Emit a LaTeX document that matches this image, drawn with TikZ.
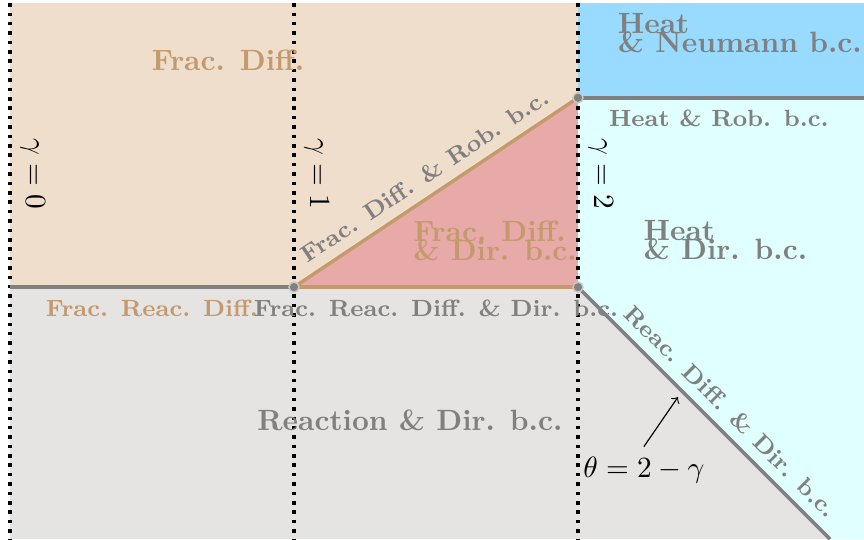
\documentclass[tikz,border=0pt]{standalone}
\definecolor{tanfill}{RGB}{239,222,204}
\definecolor{tanline}{RGB}{196,154,108}
\definecolor{redfill}{RGB}{231,170,169}
\definecolor{bluefill}{RGB}{153,218,255}
\definecolor{cyanfill}{RGB}{224,255,255}
\definecolor{grayfill}{RGB}{229,228,227}
\begin{document}
\begin{tikzpicture}[x=3.4cm, y=3.4cm,
    gline/.style={very thick, gray},
    tline/.style={very thick, tanline},
    vline/.style={black, line width=1.2pt, dash pattern=on 1.2pt off 2pt},
    corner/.style={fill=gray, draw=gray!45, line width=0.5pt},
    bigtext/.style={font=\bfseries},
    smalltext/.style={font=\footnotesize\bfseries},
    twoline/.style={font=\bfseries, align=left}]
  \useasboundingbox (-0.035,-0.887) rectangle (3.007,1.011);
  \coordinate (O) at (0,0);
  \coordinate (P1) at (1,0);
  \coordinate (P2) at (2,0);
  \coordinate (P3) at (2,2/3);
  \coordinate (R) at (3.007,2/3);
  \coordinate (E) at (2.887,-0.887);
  \fill[tanfill] (O) rectangle (2,1);
  \fill[redfill] (P1) -- (P2) -- (P3) -- cycle;
  \fill[bluefill] (P3) rectangle (3.007,1);
  \fill[cyanfill] (P3) -- (R) -- (3.007,-0.887) -- (E) -- (P2) -- cycle;
  \fill[grayfill] (O) -- (P2) -- (E) -- (0,-0.887) -- cycle;
  \foreach \g in {0,1,2}
    \draw[vline] (\g,1) -- (\g,-0.887);
  \draw[gline] (O) -- (P1);
  \draw[tline] (P1) -- (P2);
  \draw[tline] (P1) -- node[midway, above, sloped, smalltext, gray] (rob) {Frac. Diff. \& Rob. b.c.} (P3);
  \draw[gline] (P3) -- (R);
  \draw[gline] (P2) -- node[pos=0.55, above, sloped, smalltext, gray] (rdd) {Reac. Diff. \& Dir. b.c.} (E);
  \foreach \p in {P1,P2,P3}
    \filldraw[corner] (\p) circle (1.7pt);
  \node[bigtext, tanline] (fd) at (0.768,0.799) {Frac. Diff.};
  \node[smalltext, tanline] (frd) at (0.5,-0.074) {Frac. Reac. Diff.};
  \node[smalltext, gray] (frdd) at (1.5,-0.074) {Frac. Reac. Diff. \& Dir. b.c.};
  \node[bigtext, gray] (rdir) at (1.408,-0.468) {Reaction \& Dir. b.c.};
  \node[twoline, gray] (hn) at (2.57,0.893) {Heat\\[-5.5pt]\& Neumann b.c.};
  \node[smalltext, gray] (hr) at (2.496,0.595) {Heat \& Rob. b.c.};
  \node[twoline, gray] (hd) at (2.519,0.165) {Heat\\[-5.5pt]\& Dir. b.c.};
  \node[twoline, tanline] (fdd) at (1.708,0.162) {Frac. Diff.\\[-5.5pt]\& Dir. b.c.};
  \node[rotate=-90, anchor=south] (g0) at (0,0.4) {$\gamma=0$};
  \node[rotate=-90, anchor=south] (g1) at (1,0.4) {$\gamma=1$};
  \node[rotate=-90, anchor=south] (g2) at (2,0.4) {$\gamma=2$};
  \node (theta) at (2.232,-0.644) {$\theta=2-\gamma$};
  \coordinate (tip) at (2.352,-0.387);
  \draw[->] (theta.north) -- (tip);
\end{tikzpicture}
\end{document}
